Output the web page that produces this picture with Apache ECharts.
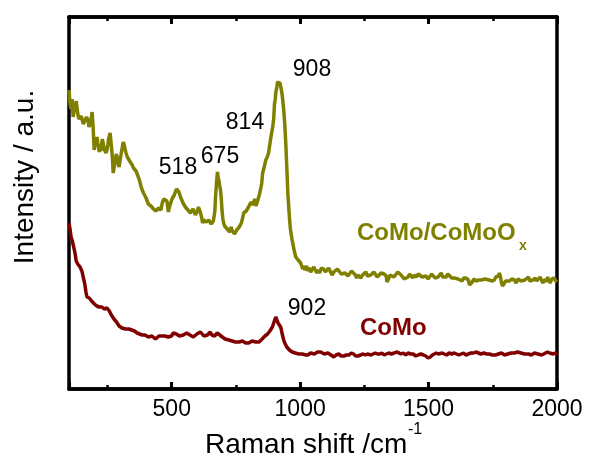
<!DOCTYPE html>
<html>
<head>
<meta charset="utf-8">
<script src="https://cdn.jsdelivr.net/npm/echarts@6/dist/echarts.min.js"></script>
<style>
  html, body { margin: 0; padding: 0; background: #fff; }
  #chart { width: 590px; height: 465px; }
</style>
</head>
<body>
<div id="chart"></div>
<script>
// CoMo/CoMoOx spectrum (Raman shift /cm-1, intensity in a.u.)
let oliveX = [
  100,104,108,112,116,120,124,128,131,135,
  139,143,147,151,156,162,168,174,178,182,
  186,190,194,198,203,206,209,212,215,218,
  221,224,227,230,233,237,240,244,248,251,
  254,257,260,263,266,269,272,276,280,284,
  287,291,295,299,303,307,311,315,318,322,
  327,331,336,341,346,351,356,361,366,370,
  375,380,385,390,395,400,405,409,414,419,
  424,429,434,439,444,448,453,458,463,469,
  475,481,487,491,496,501,506,510,514,518,
  522,525,528,531,534,539,544,548,553,558,
  563,568,573,578,583,588,592,596,600,604,
  608,611,614,617,620,625,630,635,639,644,
  649,654,659,662,665,668,670,674,678,681,
  684,687,690,693,696,699,702,706,711,716,
  721,726,731,736,741,745,748,753,758,763,
  768,771,774,777,780,785,790,795,799,804,
  809,814,819,824,828,833,838,842,846,850,
  854,857,860,863,866,869,872,875,877,881,
  885,889,893,897,900,903,905,909,912,915,
  918,921,924,927,930,933,936,940,944,948,
  952,956,959,962,965,968,971,974,977,980,
  983,988,992,997,1002,1006,1010,1014,1018,1022,
  1026,1030,1035,1041,1047,1053,1059,1065,1070,1075,
  1083,1092,1098,1105,1111,1118,1124,1131,1138,1145,
  1152,1160,1167,1175,1180,1186,1193,1200,1207,1215,
  1220,1225,1231,1237,1243,1250,1256,1262,1268,1275,
  1281,1287,1293,1300,1307,1315,1321,1327,1331,1335,
  1338,1342,1346,1350,1357,1365,1372,1380,1386,1393,
  1399,1405,1412,1420,1426,1432,1438,1444,1452,1460,
  1467,1475,1482,1490,1494,1498,1505,1512,1518,1525,
  1531,1537,1543,1549,1555,1562,1568,1575,1582,1590,
  1595,1600,1607,1615,1622,1630,1637,1645,1650,1655,
  1659,1662,1666,1670,1677,1685,1690,1695,1700,1705,
  1712,1720,1727,1735,1741,1748,1752,1756,1762,1768,
  1772,1776,1780,1784,1788,1791,1795,1800,1807,1815,
  1824,1834,1841,1848,1854,1860,1867,1875,1882,1889,
  1894,1900,1907,1915,1921,1928,1934,1940,1945,1950,
  1955,1960,1964,1967,1973,1980,1985,1990,1995,2000
];
let oliveY = [
  299,285,280,290,272,278,280,288,287,274,
  270,268,273,271,265,266,272,269,262,266,
  270,277,262,239,247,243,252,246,244,237,
  244,238,245,250,246,240,241,236,239,244,
  250,253,256,248,240,231,216,222,228,235,
  232,226,222,229,235,241,247,244,240,236,
  232,230,228,226,224,221,220,218,216,212,
  208,203,199,196,194,191,189,185,186,183,
  182,180,180,178,177,181,183,179,186,190,
  192,188,177,182,186,190,192,194,196,200,
  202,199,197,195,192,189,186,184,182,180,
  179,177,176,178,180,177,174,176,178,182,
  184,177,175,171,166,169,171,167,166,169,
  169,165,166,168,170,178,190,205,217,211,
  208,203,199,190,178,170,166,163,161,160,
  159,157,162,158,157,155,156,159,159,162,
  162,166,168,172,176,174,178,176,182,180,
  187,184,186,190,183,187,189,195,197,205,
  216,219,222,225,229,227,232,234,236,243,
  250,256,262,270,285,290,296,302,307,309,
  308,306,304,299,294,287,279,265,246,222,
  196,180,169,160,155,150,146,142,138,135,
  132,130,129,127,126,124,120,123,119,121,
  123,118,121,117,118,122,120,116,119,116,
  121,120,117,119,121,119,114,117,116,120,
  118,115,113,116,116,113,114,118,117,114,
  111,114,115,111,114,116,117,113,112,114,
  115,117,116,112,113,116,118,115,117,113,
  107,109,111,114,116,112,113,117,116,114,
  114,110,110,112,115,113,111,114,112,115,
  116,112,110,113,114,110,112,115,115,111,
  109,112,113,116,112,114,112,115,116,111,
  113,111,113,110,112,108,111,111,109,109,
  104,102,104,107,110,108,106,109,111,109,
  107,110,108,109,111,108,110,109,112,111,
  113,116,112,106,103,102,105,108,110,108,
  110,109,106,110,112,108,110,109,111,112,
  108,106,109,111,108,109,112,110,106,109,
  111,108,112,109,106,110,108,111,108,107
];

// CoMo spectrum
let redX = [
  100,104,108,112,116,120,124,128,131,134,
  137,140,143,147,150,153,155,159,162,166,
  170,173,176,179,182,185,188,191,194,199,
  204,208,213,218,223,228,233,237,240,244,
  248,251,254,257,260,265,270,275,280,285,
  290,295,299,306,313,320,327,333,338,344,
  350,355,360,365,370,375,380,385,389,396,
  402,409,416,423,430,437,444,450,456,462,
  467,474,480,486,492,499,506,512,518,524,
  530,537,545,551,558,564,571,578,584,591,
  598,605,612,618,625,632,639,645,650,656,
  662,667,672,677,682,687,692,697,702,708,
  715,722,729,735,742,748,755,762,768,775,
  781,788,794,800,807,813,820,827,834,840,
  846,852,858,863,868,873,877,882,887,892,
  897,901,905,909,914,919,924,927,930,933,
  936,940,944,948,952,958,963,969,975,981,
  988,995,1002,1008,1015,1022,1030,1036,1041,1048,
  1055,1062,1068,1074,1080,1087,1094,1101,1108,1114,
  1120,1126,1131,1140,1150,1160,1170,1180,1190,1199,
  1208,1216,1225,1235,1245,1254,1262,1269,1276,1284,
  1292,1301,1310,1318,1327,1336,1345,1355,1366,1375,
  1385,1393,1402,1411,1420,1430,1440,1450,1459,1470,
  1480,1489,1498,1507,1515,1522,1530,1538,1545,1553,
  1561,1570,1580,1590,1600,1609,1618,1627,1636,1645,
  1655,1665,1675,1684,1694,1704,1715,1726,1737,1748,
  1760,1772,1784,1796,1808,1821,1834,1847,1860,1874,
  1889,1900,1912,1926,1940,1948,1955,1963,1971,1978,
  1985,1993,2000
];
let redY = [
  166,160,152,149,147,140,135,128,126,125,
  124,123,122,120,118,115,112,108,104,97,
  92,93,94,91,89,90,88,87,86,85,
  84,83,81,82,83,82,81,80,79,80,
  81,81,80,78,76,74,72,70,69,67,
  65,63,62,61,60,60,59,60,58,59,
  61,58,57,56,54,55,53,54,52,54,
  54,52,52,53,51,50,52,53,54,53,
  52,53,53,52,51,53,56,55,55,54,
  53,52,54,55,56,55,54,53,52,53,
  55,56,57,55,53,54,54,56,57,54,
  52,53,55,56,56,54,53,52,51,50,
  48,49,47,48,49,47,46,47,46,48,
  47,46,45,46,47,48,48,47,46,47,
  49,50,51,53,54,55,56,58,60,62,
  66,69,72,70,66,64,62,59,55,52,
  49,46,44,42,41,39,38,37,36,36,
  35,35,34,35,35,34,34,35,36,35,
  35,36,37,36,37,36,35,36,36,35,
  34,33,32,34,35,33,33,34,34,36,
  35,33,33,34,35,34,35,34,34,35,
  36,35,35,36,34,35,36,35,36,37,
  36,35,36,34,36,35,35,33,34,35,
  34,33,31,32,34,35,36,35,35,36,
  35,34,36,35,36,35,34,35,36,34,
  35,36,36,37,36,35,36,35,35,34,
  34,35,36,34,35,36,36,37,36,35,
  35,34,36,35,34,35,36,37,36,35,
  35,36,34
];

let olive = '#808000';
let darkRed = '#800000';
let fontName = '"Liberation Sans", Arial, sans-serif';

function pairs(xs, ys) {
  return xs.map(function (x, i) { return [x, ys[i]]; });
}

let gridRect = { left: 69, right: 33, top: 17, bottom: 76 };

// main x axes: line + labels
function mainXAxis(pos, withLabels) {
  return {
    gridIndex: 0, type: 'value', min: 100, max: 2000, splitNumber: 4, position: pos,
    axisLine: { show: true, onZero: false, lineStyle: { color: '#000', width: 3.5 } },
    axisTick: { show: false },
    splitLine: { show: false },
    axisLabel: withLabels ? {
      margin: 9, fontSize: 23, fontFamily: fontName, color: '#000',
      formatter: function (v) { return v % 500 === 0 ? String(v) : ''; }
    } : { show: false }
  };
}

// tick-only axes on an overlaid grid
function tickXAxis(pos) {
  return {
    gridIndex: 1, type: 'value', min: 100, max: 2000, splitNumber: 4, position: pos,
    axisLine: { show: true, onZero: false, lineStyle: { color: '#000', width: 3.5 } },
    axisTick: { show: true, inside: true, length: 7, lineStyle: { color: '#000', width: 3 } },
    minorTick: { show: true, splitNumber: 2, length: 4, lineStyle: { color: '#000', width: 2.5 } },
    splitLine: { show: false },
    axisLabel: { show: false }
  };
}

let myChart = echarts.init(document.getElementById('chart'));

myChart.setOption({
  animation: false,
  grid: [gridRect, gridRect],
  xAxis: [mainXAxis('bottom', true), mainXAxis('top', false), tickXAxis('bottom'), tickXAxis('top')],
  yAxis: [
    {
      gridIndex: 0, type: 'value', min: 0, max: 372, position: 'left',
      axisLine: { show: true, lineStyle: { color: '#000', width: 3.5 } },
      axisTick: { show: false }, axisLabel: { show: false }, splitLine: { show: false }
    },
    {
      gridIndex: 0, type: 'value', min: 0, max: 372, position: 'right',
      axisLine: { show: true, lineStyle: { color: '#000', width: 3.5 } },
      axisTick: { show: false }, axisLabel: { show: false }, splitLine: { show: false }
    },
    {
      gridIndex: 1, type: 'value', min: 0, max: 100, show: false
    }
  ],
  series: [
    {
      name: 'CoMo/CoMoOx',
      type: 'line',
      xAxisIndex: 0, yAxisIndex: 0,
      showSymbol: false,
      data: pairs(oliveX, oliveY),
      lineStyle: { color: olive, width: 3.5 },
      itemStyle: { color: olive }
    },
    {
      name: 'CoMo',
      type: 'line',
      xAxisIndex: 0, yAxisIndex: 0,
      showSymbol: false,
      data: pairs(redX, redY),
      lineStyle: { color: darkRed, width: 3.5 },
      itemStyle: { color: darkRed }
    }
  ],
  graphic: [
    { type: 'text', x: 178, y: 168, style: { text: '518', font: '23px ' + fontName, fill: '#000', align: 'center', verticalAlign: 'middle' } },
    { type: 'text', x: 220, y: 157, style: { text: '675', font: '23px ' + fontName, fill: '#000', align: 'center', verticalAlign: 'middle' } },
    { type: 'text', x: 245, y: 123, style: { text: '814', font: '23px ' + fontName, fill: '#000', align: 'center', verticalAlign: 'middle' } },
    { type: 'text', x: 312, y: 70, style: { text: '908', font: '23px ' + fontName, fill: '#000', align: 'center', verticalAlign: 'middle' } },
    { type: 'text', x: 307, y: 309, style: { text: '902', font: '23px ' + fontName, fill: '#000', align: 'center', verticalAlign: 'middle' } },
    { type: 'text', x: 357, y: 233, style: { text: 'CoMo/CoMoO', font: 'bold 24px ' + fontName, fill: olive, align: 'left', verticalAlign: 'middle' } },
    { type: 'text', x: 519, y: 246, style: { text: 'x', font: 'bold 14px ' + fontName, fill: olive, align: 'left', verticalAlign: 'middle' } },
    { type: 'text', x: 360, y: 328, style: { text: 'CoMo', font: 'bold 24px ' + fontName, fill: darkRed, align: 'left', verticalAlign: 'middle' } },
    { type: 'text', x: 205, y: 445, style: { text: 'Raman shift /cm', font: '28px ' + fontName, fill: '#000', align: 'left', verticalAlign: 'middle' } },
    { type: 'text', x: 408, y: 430, style: { text: '-1', font: '16px ' + fontName, fill: '#000', align: 'left', verticalAlign: 'middle' } },
    { type: 'text', x: 25, y: 177, rotation: Math.PI / 2, style: { text: 'Intensity / a.u.', font: '28px ' + fontName, fill: '#000', align: 'center', verticalAlign: 'middle' } }
  ]
});
</script>
</body>
</html>
